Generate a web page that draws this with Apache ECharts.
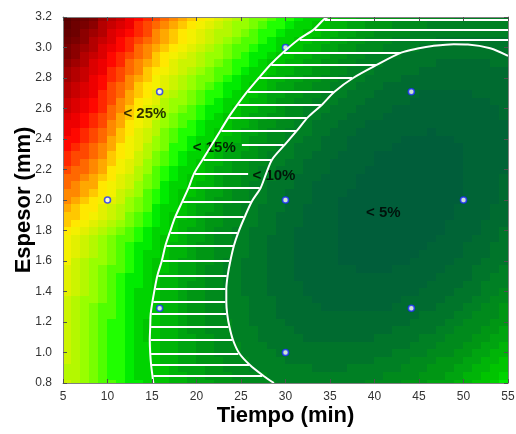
<!DOCTYPE html>
<html>
<head>
<meta charset="utf-8">
<script src="https://cdn.jsdelivr.net/npm/echarts@6/dist/echarts.min.js"></script>
<style>
html, body { margin: 0; padding: 0; background: #fff; }
#container { width: 516px; height: 434px; }
</style>
</head>
<body>
<div id="container"></div>
<script>
// centros de celda de la superficie
var tiempo = [5.5, 6.5, 7.5, 8.5, 9.5, 10.5, 11.5, 12.5, 13.5, 14.5,
    15.5, 16.5, 17.5, 18.5, 19.5, 20.5, 21.5, 22.5, 23.5, 24.5,
    25.5, 26.5, 27.5, 28.5, 29.5, 30.5, 31.5, 32.5, 33.5, 34.5,
    35.5, 36.5, 37.5, 38.5, 39.5, 40.5, 41.5, 42.5, 43.5, 44.5,
    45.5, 46.5, 47.5, 48.5, 49.5, 50.5, 51.5, 52.5, 53.5, 54.5];
var espesor = [0.80, 0.85, 0.90, 0.95, 1.00, 1.05, 1.10, 1.15, 1.20, 1.25, 1.30, 1.35, 1.40, 1.45,
    1.50, 1.55, 1.60, 1.65, 1.70, 1.75, 1.80, 1.85, 1.90, 1.95, 2.00, 2.05, 2.10, 2.15, 2.20,
    2.25, 2.30, 2.35, 2.40, 2.45, 2.50, 2.55, 2.60, 2.65, 2.70, 2.75, 2.80, 2.85, 2.90, 2.95,
    3.00, 3.05, 3.10, 3.15, 3.20];

// error (%) por fila de espesor, de abajo hacia arriba
var errorMalla = [
    [18.1,17.2,16.4,15.6,14.8,14.1,13.4,12.7,12.1,11.5,10.9,10.4,9.9,9.4,8.9,8.5,8.1,7.7,7.4,7.1,6.8,6.6,6.4,6.2,6.0,5.9,5.8,5.8,5.7,5.7,5.8,5.8,5.9,6.0,6.2,6.4,6.6,6.8,7.1,7.4,7.8,8.1,8.5,9.0,9.4,9.9,10.4,11.0,11.6,12.2],
    [18.0,17.2,16.3,15.5,14.8,14.0,13.3,12.6,12.0,11.4,10.8,10.2,9.7,9.2,8.7,8.3,7.9,7.5,7.2,6.8,6.6,6.3,6.1,5.9,5.7,5.6,5.5,5.4,5.4,5.4,5.4,5.4,5.5,5.6,5.8,6.0,6.2,6.4,6.7,7.0,7.3,7.6,8.0,8.4,8.9,9.4,9.9,10.4,11.0,11.6],
    [18.0,17.2,16.3,15.5,14.7,13.9,13.2,12.5,11.9,11.3,10.7,10.1,9.5,9.0,8.5,8.1,7.7,7.3,7.0,6.6,6.3,6.0,5.8,5.6,5.4,5.3,5.2,5.1,5.0,5.0,5.0,5.0,5.1,5.2,5.4,5.6,5.7,5.9,6.2,6.5,6.8,7.1,7.5,7.9,8.4,8.8,9.3,9.8,10.4,11.0],
    [18.1,17.2,16.3,15.5,14.7,13.9,13.2,12.5,11.8,11.2,10.6,10.0,9.4,8.9,8.4,8.0,7.5,7.1,6.8,6.4,6.1,5.8,5.6,5.4,5.2,5.0,4.9,4.8,4.7,4.7,4.7,4.7,4.8,4.9,5.0,5.2,5.3,5.5,5.8,6.1,6.4,6.7,7.1,7.5,7.9,8.3,8.8,9.3,9.9,10.5],
    [18.1,17.2,16.3,15.5,14.7,13.9,13.1,12.4,11.7,11.1,10.5,9.9,9.3,8.8,8.3,7.8,7.3,6.9,6.6,6.2,5.9,5.6,5.4,5.1,4.9,4.7,4.6,4.5,4.4,4.4,4.4,4.4,4.4,4.5,4.6,4.8,4.9,5.1,5.4,5.6,5.9,6.2,6.6,7.0,7.4,7.8,8.3,8.8,9.4,9.9],
    [18.1,17.2,16.4,15.5,14.7,13.9,13.1,12.4,11.7,11.1,10.4,9.8,9.2,8.7,8.2,7.7,7.2,6.8,6.4,6.1,5.7,5.4,5.2,4.9,4.7,4.5,4.4,4.3,4.2,4.1,4.1,4.1,4.1,4.2,4.3,4.4,4.6,4.8,5.0,5.2,5.5,5.8,6.2,6.5,6.9,7.4,7.8,8.3,8.9,9.4],
    [18.2,17.3,16.4,15.5,14.7,13.9,13.1,12.4,11.7,11.0,10.4,9.7,9.1,8.6,8.1,7.6,7.1,6.7,6.3,5.9,5.5,5.2,5.0,4.7,4.5,4.3,4.2,4.0,3.9,3.8,3.8,3.8,3.8,3.9,4.0,4.1,4.2,4.4,4.6,4.8,5.1,5.4,5.8,6.1,6.5,6.9,7.3,7.8,8.4,8.9],
    [18.3,17.4,16.5,15.6,14.8,14.0,13.2,12.4,11.7,11.0,10.4,9.7,9.1,8.6,8.0,7.5,7.0,6.6,6.2,5.8,5.4,5.1,4.8,4.6,4.3,4.1,4.0,3.8,3.7,3.6,3.6,3.6,3.6,3.6,3.7,3.8,3.9,4.1,4.3,4.5,4.8,5.0,5.4,5.7,6.1,6.5,6.9,7.4,7.9,8.4],
    [18.4,17.5,16.6,15.7,14.8,14.0,13.2,12.4,11.7,11.0,10.4,9.7,9.1,8.5,7.9,7.4,6.9,6.5,6.1,5.7,5.3,5.0,4.7,4.4,4.1,3.9,3.8,3.6,3.5,3.4,3.3,3.3,3.3,3.3,3.4,3.5,3.6,3.8,3.9,4.1,4.4,4.6,5.0,5.3,5.7,6.1,6.5,7.0,7.4,7.9],
    [18.6,17.6,16.7,15.8,14.9,14.1,13.3,12.5,11.8,11.1,10.4,9.7,9.1,8.5,7.9,7.4,6.9,6.4,6.0,5.6,5.2,4.9,4.6,4.3,4.0,3.8,3.6,3.4,3.3,3.2,3.1,3.1,3.1,3.1,3.1,3.2,3.3,3.5,3.6,3.8,4.1,4.3,4.6,5.0,5.3,5.7,6.1,6.6,7.0,7.5],
    [18.7,17.7,16.8,15.9,15.0,14.2,13.4,12.6,11.8,11.1,10.4,9.7,9.1,8.5,7.9,7.4,6.9,6.4,5.9,5.5,5.1,4.8,4.5,4.2,3.9,3.6,3.4,3.2,3.1,3.0,2.9,2.9,2.9,2.8,2.9,2.9,3.0,3.2,3.3,3.5,3.8,4.0,4.3,4.6,4.9,5.3,5.7,6.2,6.6,7.1],
    [18.9,17.9,17.0,16.1,15.2,14.3,13.5,12.7,11.9,11.2,10.5,9.8,9.1,8.5,7.9,7.4,6.9,6.4,5.9,5.5,5.1,4.7,4.4,4.1,3.8,3.5,3.3,3.1,3.0,2.8,2.8,2.7,2.7,2.6,2.7,2.7,2.8,2.9,3.1,3.3,3.5,3.7,4.0,4.3,4.6,5.0,5.4,5.8,6.2,6.7],
    [19.1,18.1,17.1,16.2,15.3,14.4,13.6,12.8,12.0,11.3,10.5,9.8,9.2,8.5,7.9,7.4,6.9,6.4,5.9,5.4,5.0,4.6,4.3,4.0,3.7,3.4,3.2,3.0,2.8,2.7,2.6,2.5,2.5,2.4,2.5,2.5,2.6,2.7,2.8,3.0,3.2,3.4,3.7,4.0,4.3,4.6,5.0,5.4,5.8,6.3],
    [19.3,18.3,17.3,16.4,15.5,14.6,13.7,12.9,12.1,11.4,10.6,9.9,9.3,8.6,8.0,7.5,6.9,6.4,5.9,5.4,5.0,4.6,4.3,3.9,3.6,3.4,3.1,2.9,2.7,2.6,2.5,2.4,2.3,2.3,2.3,2.3,2.4,2.5,2.6,2.8,2.9,3.2,3.4,3.7,4.0,4.3,4.7,5.1,5.5,6.0],
    [19.5,18.5,17.5,16.6,15.7,14.8,13.9,13.0,12.2,11.5,10.7,10.0,9.4,8.7,8.1,7.5,6.9,6.4,5.9,5.4,5.0,4.6,4.2,3.9,3.6,3.3,3.0,2.8,2.6,2.5,2.3,2.2,2.2,2.1,2.1,2.1,2.2,2.3,2.4,2.5,2.7,2.9,3.1,3.4,3.7,4.0,4.4,4.8,5.2,5.6],
    [19.8,18.8,17.8,16.8,15.9,15.0,14.1,13.2,12.4,11.6,10.9,10.2,9.5,8.8,8.2,7.6,7.0,6.5,6.0,5.5,5.0,4.6,4.2,3.9,3.6,3.3,3.0,2.8,2.6,2.4,2.2,2.1,2.1,2.0,2.0,2.0,2.0,2.1,2.2,2.3,2.5,2.7,2.9,3.2,3.5,3.8,4.1,4.5,4.9,5.3],
    [20.1,19.0,18.0,17.0,16.1,15.2,14.3,13.4,12.6,11.8,11.0,10.3,9.6,8.9,8.3,7.7,7.1,6.6,6.0,5.5,5.0,4.6,4.2,3.9,3.6,3.2,3.0,2.7,2.5,2.3,2.1,2.0,2.0,1.9,1.9,1.8,1.9,1.9,2.0,2.1,2.3,2.5,2.7,2.9,3.2,3.5,3.8,4.2,4.6,5.0],
    [20.4,19.3,18.3,17.3,16.3,15.4,14.5,13.7,12.8,12.0,11.2,10.5,9.8,9.1,8.4,7.8,7.2,6.7,6.1,5.6,5.1,4.7,4.3,3.9,3.6,3.2,3.0,2.7,2.5,2.3,2.1,2.0,1.9,1.8,1.8,1.7,1.8,1.8,1.9,2.0,2.1,2.3,2.5,2.7,3.0,3.3,3.6,4.0,4.4,4.8],
    [20.7,19.6,18.6,17.6,16.6,15.6,14.7,13.9,13.0,12.2,11.4,10.7,9.9,9.2,8.6,7.9,7.3,6.8,6.2,5.7,5.2,4.8,4.3,3.9,3.6,3.2,3.0,2.7,2.5,2.3,2.1,1.9,1.8,1.7,1.7,1.6,1.7,1.7,1.7,1.8,2.0,2.1,2.3,2.5,2.8,3.1,3.4,3.7,4.1,4.5],
    [21.0,19.9,18.9,17.9,16.9,15.9,15.0,14.1,13.3,12.4,11.6,10.9,10.1,9.4,8.8,8.1,7.5,6.9,6.3,5.8,5.3,4.9,4.4,4.0,3.7,3.3,3.0,2.7,2.5,2.3,2.1,1.9,1.8,1.7,1.6,1.6,1.6,1.6,1.6,1.7,1.9,2.0,2.2,2.4,2.6,2.9,3.2,3.5,3.9,4.3],
    [21.7,20.7,19.7,18.8,17.8,16.7,15.8,14.8,13.8,12.9,11.9,11.1,10.3,9.6,8.9,8.3,7.6,7.0,6.5,5.9,5.4,5.0,4.5,4.1,3.7,3.4,3.0,2.7,2.5,2.3,2.1,1.9,1.8,1.6,1.5,1.5,1.5,1.5,1.5,1.6,1.7,1.9,2.0,2.2,2.4,2.7,3.0,3.3,3.7,4.1],
    [22.3,21.4,20.6,19.6,18.6,17.6,16.4,15.4,14.3,13.4,12.3,11.4,10.6,9.8,9.1,8.5,7.8,7.2,6.7,6.1,5.6,5.1,4.6,4.2,3.8,3.5,3.1,2.8,2.5,2.3,2.1,1.9,1.8,1.6,1.5,1.5,1.5,1.5,1.5,1.5,1.6,1.8,1.9,2.1,2.3,2.6,2.8,3.1,3.5,3.9],
    [23.0,22.1,21.3,20.4,19.3,18.3,17.1,16.0,14.8,13.8,12.7,11.7,10.8,10.1,9.3,8.7,8.0,7.4,6.8,6.3,5.7,5.2,4.7,4.3,3.9,3.6,3.2,2.9,2.6,2.3,2.1,1.9,1.8,1.6,1.5,1.5,1.4,1.4,1.4,1.4,1.5,1.7,1.8,2.0,2.2,2.4,2.7,3.0,3.3,3.7],
    [23.6,22.8,21.9,21.1,20.0,18.8,17.7,16.4,15.3,14.2,13.0,12.0,11.1,10.4,9.6,8.9,8.3,7.6,7.0,6.5,5.9,5.4,4.9,4.5,4.1,3.7,3.3,3.0,2.7,2.4,2.2,2.0,1.8,1.7,1.6,1.5,1.4,1.4,1.4,1.4,1.5,1.6,1.7,1.9,2.1,2.3,2.6,2.9,3.2,3.5],
    [24.2,23.4,22.6,21.8,20.7,19.5,18.2,17.0,15.7,14.6,13.4,12.4,11.4,10.6,9.9,9.2,8.5,7.8,7.2,6.7,6.1,5.6,5.1,4.6,4.2,3.8,3.4,3.1,2.8,2.5,2.3,2.0,1.9,1.7,1.6,1.5,1.4,1.4,1.4,1.4,1.5,1.5,1.6,1.8,2.0,2.2,2.5,2.7,3.0,3.4],
    [24.8,24.1,23.3,22.4,21.3,20.1,18.8,17.6,16.2,15.0,13.8,12.7,11.7,10.9,10.2,9.5,8.8,8.1,7.5,6.9,6.3,5.8,5.3,4.8,4.4,4.0,3.6,3.2,2.9,2.6,2.4,2.1,2.0,1.8,1.6,1.5,1.5,1.4,1.4,1.4,1.5,1.5,1.6,1.8,2.0,2.2,2.4,2.6,2.9,3.3],
    [25.4,24.6,23.9,23.1,22.0,20.7,19.4,18.1,16.7,15.4,14.2,13.0,12.0,11.2,10.5,9.8,9.1,8.4,7.7,7.1,6.5,6.0,5.5,5.0,4.6,4.2,3.8,3.4,3.0,2.7,2.5,2.2,2.1,1.9,1.7,1.6,1.5,1.4,1.4,1.4,1.5,1.5,1.6,1.7,1.9,2.1,2.3,2.5,2.8,3.2],
    [26.0,25.2,24.5,23.7,22.6,21.3,19.9,18.6,17.2,15.9,14.6,13.4,12.4,11.6,10.8,10.1,9.4,8.7,8.0,7.4,6.8,6.3,5.8,5.3,4.8,4.4,4.0,3.6,3.2,2.9,2.6,2.4,2.2,2.0,1.8,1.7,1.6,1.5,1.5,1.5,1.5,1.5,1.6,1.7,1.9,2.1,2.3,2.5,2.8,3.1],
    [26.6,25.8,25.2,24.4,23.3,21.9,20.4,19.1,17.7,16.3,15.0,13.8,12.8,11.9,11.1,10.4,9.7,9.0,8.3,7.7,7.1,6.5,6.0,5.5,5.0,4.6,4.2,3.8,3.4,3.1,2.8,2.5,2.3,2.1,1.9,1.8,1.7,1.6,1.5,1.5,1.5,1.5,1.6,1.7,1.9,2.1,2.2,2.5,2.7,3.0],
    [27.2,26.5,25.8,25.0,23.9,22.5,21.0,19.6,18.2,16.8,15.5,14.2,13.2,12.3,11.5,10.8,10.0,9.3,8.7,8.0,7.4,6.8,6.3,5.8,5.3,4.8,4.4,4.0,3.6,3.3,3.0,2.7,2.5,2.2,2.1,1.9,1.8,1.7,1.6,1.6,1.6,1.6,1.7,1.8,1.9,2.1,2.2,2.5,2.7,3.0],
    [27.8,27.0,26.3,25.5,24.4,23.0,21.5,20.1,18.6,17.2,15.9,14.6,13.6,12.7,11.9,11.1,10.4,9.7,9.0,8.3,7.7,7.1,6.6,6.0,5.5,5.1,4.6,4.2,3.8,3.5,3.2,2.9,2.6,2.4,2.2,2.0,1.9,1.8,1.7,1.7,1.7,1.7,1.7,1.8,1.9,2.1,2.2,2.5,2.7,3.0],
    [28.4,27.6,26.9,26.0,24.9,23.5,22.0,20.6,19.1,17.7,16.4,15.1,14.0,13.2,12.3,11.5,10.8,10.1,9.4,8.7,8.1,7.5,6.9,6.3,5.8,5.4,4.9,4.5,4.1,3.7,3.4,3.1,2.8,2.6,2.4,2.2,2.1,2.0,1.9,1.8,1.8,1.8,1.8,1.9,2.0,2.1,2.3,2.5,2.7,3.0],
    [29.0,28.1,27.3,26.4,25.3,23.9,22.5,21.0,19.6,18.2,16.9,15.5,14.4,13.6,12.7,11.9,11.2,10.5,9.7,9.1,8.4,7.8,7.2,6.6,6.1,5.7,5.2,4.8,4.3,4.0,3.6,3.3,3.0,2.8,2.6,2.4,2.2,2.1,2.0,1.9,1.9,1.9,1.9,2.0,2.1,2.2,2.3,2.5,2.7,3.0],
    [29.5,28.6,27.8,26.9,25.8,24.4,23.0,21.5,20.0,18.6,17.3,16.0,14.9,14.0,13.2,12.4,11.6,10.9,10.1,9.5,8.8,8.2,7.6,7.0,6.5,6.0,5.5,5.1,4.6,4.3,3.9,3.6,3.3,3.0,2.8,2.6,2.4,2.3,2.2,2.1,2.1,2.0,2.1,2.1,2.2,2.3,2.4,2.6,2.8,3.0],
    [30.0,29.1,28.3,27.3,26.2,24.8,23.4,21.9,20.5,19.1,17.8,16.5,15.4,14.5,13.7,12.8,12.0,11.3,10.5,9.9,9.2,8.6,7.9,7.4,6.8,6.3,5.8,5.4,4.9,4.6,4.2,3.8,3.5,3.2,3.0,2.8,2.6,2.5,2.4,2.3,2.2,2.2,2.2,2.2,2.3,2.4,2.5,2.7,2.8,3.0],
    [30.5,29.7,28.7,27.8,26.7,25.2,23.8,22.4,21.0,19.6,18.3,17.0,15.9,15.0,14.2,13.3,12.5,11.7,11.0,10.3,9.6,9.0,8.3,7.8,7.2,6.7,6.2,5.7,5.3,4.9,4.5,4.1,3.8,3.5,3.3,3.1,2.9,2.7,2.6,2.5,2.4,2.4,2.4,2.4,2.4,2.5,2.6,2.8,2.9,3.1],
    [31.1,30.1,29.2,28.2,27.1,25.6,24.3,22.8,21.5,20.0,18.7,17.5,16.4,15.5,14.7,13.8,13.0,12.2,11.5,10.7,10.0,9.4,8.7,8.2,7.6,7.0,6.5,6.0,5.6,5.2,4.8,4.4,4.1,3.8,3.6,3.3,3.1,2.9,2.8,2.7,2.6,2.6,2.5,2.5,2.6,2.6,2.7,2.9,3.0,3.2],
    [31.6,30.6,29.7,28.6,27.4,26.1,24.7,23.3,22.0,20.6,19.3,18.0,17.0,16.1,15.2,14.3,13.5,12.7,12.0,11.2,10.5,9.8,9.2,8.6,8.0,7.4,6.9,6.4,6.0,5.5,5.1,4.8,4.4,4.1,3.9,3.6,3.4,3.2,3.1,2.9,2.8,2.8,2.7,2.7,2.8,2.8,2.9,3.0,3.2,3.4],
    [32.2,31.2,30.1,29.1,27.9,26.5,25.1,23.7,22.5,21.1,19.8,18.6,17.6,16.6,15.7,14.8,14.0,13.2,12.5,11.7,11.0,10.3,9.6,9.0,8.4,7.8,7.3,6.8,6.4,5.9,5.5,5.1,4.7,4.4,4.2,3.9,3.7,3.5,3.3,3.2,3.0,3.0,2.9,2.9,3.0,3.0,3.1,3.2,3.3,3.5],
    [32.7,31.7,30.6,29.6,28.4,27.0,25.6,24.3,23.0,21.7,20.4,19.2,18.2,17.2,16.3,15.4,14.6,13.8,13.0,12.2,11.5,10.8,10.1,9.5,8.9,8.3,7.8,7.2,6.8,6.3,5.9,5.5,5.1,4.8,4.5,4.2,4.0,3.8,3.6,3.5,3.3,3.3,3.2,3.2,3.2,3.2,3.3,3.4,3.5,3.7],
    [33.3,32.2,31.1,30.0,28.8,27.5,26.1,24.8,23.5,22.2,21.0,19.8,18.8,17.8,16.9,16.0,15.1,14.3,13.5,12.7,12.0,11.3,10.6,10.0,9.3,8.7,8.2,7.6,7.2,6.7,6.3,5.9,5.5,5.1,4.8,4.5,4.3,4.1,3.9,3.8,3.6,3.5,3.4,3.4,3.4,3.4,3.5,3.6,3.7,3.8],
    [34.0,32.8,31.7,30.5,29.3,28.0,26.6,25.4,24.1,22.9,21.6,20.5,19.4,18.4,17.5,16.6,15.7,14.9,14.1,13.3,12.5,11.8,11.1,10.5,9.8,9.2,8.7,8.1,7.6,7.1,6.7,6.3,5.9,5.5,5.2,4.9,4.7,4.4,4.2,4.1,3.9,3.8,3.7,3.7,3.7,3.7,3.7,3.8,3.9,4.0],
    [34.6,33.4,32.3,31.0,29.7,28.5,27.2,25.9,24.7,23.5,22.3,21.1,20.0,19.0,18.1,17.2,16.3,15.5,14.6,13.8,13.1,12.3,11.6,11.0,10.3,9.7,9.2,8.6,8.1,7.6,7.1,6.7,6.3,5.9,5.6,5.3,5.0,4.8,4.5,4.4,4.2,4.1,4.0,4.0,3.9,3.9,3.9,4.0,4.1,4.2],
    [35.3,34.1,32.8,31.6,30.3,29.0,27.8,26.5,25.3,24.1,22.9,21.7,20.7,19.7,18.8,17.8,16.9,16.1,15.2,14.4,13.7,12.9,12.2,11.5,10.9,10.2,9.7,9.1,8.6,8.1,7.6,7.2,6.8,6.4,6.0,5.7,5.4,5.2,4.9,4.8,4.6,4.5,4.3,4.3,4.2,4.2,4.2,4.3,4.4,4.5],
    [35.9,34.7,33.5,32.2,30.9,29.6,28.3,27.1,25.9,24.7,23.6,22.4,21.4,20.4,19.4,18.5,17.5,16.7,15.8,15.0,14.3,13.5,12.8,12.1,11.4,10.7,10.2,9.6,9.1,8.6,8.1,7.6,7.2,6.8,6.4,6.1,5.8,5.6,5.3,5.1,4.9,4.8,4.6,4.6,4.5,4.5,4.5,4.6,4.6,4.7],
    [36.7,35.4,34.1,32.8,31.5,30.2,29.0,27.7,26.6,25.4,24.2,23.1,22.1,21.1,20.1,19.2,18.2,17.4,16.5,15.7,14.9,14.1,13.4,12.7,12.0,11.3,10.7,10.1,9.6,9.1,8.6,8.1,7.7,7.3,6.9,6.6,6.3,6.0,5.7,5.5,5.3,5.2,5.0,5.0,4.9,4.9,4.8,4.9,4.9,5.0],
    [37.5,36.1,34.7,33.4,32.1,30.8,29.6,28.4,27.2,26.1,24.9,23.8,22.8,21.8,20.8,19.9,18.9,18.0,17.1,16.3,15.5,14.7,14.0,13.3,12.6,11.9,11.3,10.7,10.1,9.6,9.1,8.6,8.2,7.8,7.4,7.0,6.7,6.4,6.1,5.9,5.7,5.6,5.4,5.3,5.2,5.2,5.1,5.2,5.2,5.3],
    [38.4,37.0,35.6,34.3,33.0,31.7,30.4,29.2,28.0,26.9,25.7,24.6,23.6,22.5,21.5,20.6,19.6,18.7,17.8,17.0,16.2,15.4,14.6,13.9,13.2,12.5,11.9,11.3,10.7,10.1,9.6,9.1,8.7,8.3,7.9,7.5,7.2,6.9,6.6,6.4,6.2,6.0,5.8,5.7,5.6,5.6,5.5,5.5,5.6,5.6],
    [39.3,37.9,36.5,35.1,33.8,32.5,31.3,30.0,28.8,27.7,26.5,25.4,24.3,23.3,22.3,21.3,20.3,19.4,18.5,17.7,16.8,16.0,15.3,14.5,13.8,13.1,12.5,11.9,11.3,10.7,10.2,9.7,9.2,8.8,8.4,8.0,7.7,7.4,7.1,6.8,6.6,6.4,6.2,6.1,6.0,5.9,5.9,5.9,5.9,6.0]
];

// un color por cada banda de 1 %
var colores = ['#005a3c','#005e3a','#006436','#006b30','#00752a','#008024','#008a1c','#009614','#00a410','#00b408',
    '#00c400','#00d400','#00ec00','#20ff00','#50ff00','#78ff00','#98ff00','#b4f800','#ccf400','#e2f000',
    '#f4f000','#ffe800','#ffc800','#ffa800','#ff8800','#ff6800','#ff4800','#ff2800','#ff0800','#ee0000',
    '#dc0000','#c80000','#b40000','#a00000','#8c0000','#7a0000','#6e0000','#660000','#5e0000','#580000'];

// puntos del diseño experimental
var puntosTiempo = [10, 15.86, 15.86, 30, 30, 30, 44.14, 44.14, 50];
var puntosEspesor = [2.0, 2.71, 1.29, 3.0, 2.0, 1.0, 2.71, 1.29, 2.0];

// curvas blancas
var contorno10 = [[34.8,3.2],[34.3,3.184],[33.2,3.119],[31.5,3.054],[29.7,2.966],[28.3,2.887],[27.0,2.80],[25.7,2.71],
    [24.6,2.625],[23.6,2.542],[22.7,2.456],[21.7,2.361],[20.7,2.266],[19.7,2.17],[19.1,2.079],[18.4,1.989],[17.6,1.887],
    [17.0,1.788],[16.5,1.70],[16.1,1.60],[15.6,1.504],[15.3,1.416],[15.05,1.333],[14.85,1.252],[14.8,1.169],[14.75,1.082],
    [14.8,0.995],[14.9,0.918],[15.05,0.848],[15.15,0.8]];
var contorno5 = [[55,2.945],[53,2.995],[50.5,3.02],[48.9,3.022],[46.5,3.01],[45.0,2.995],[43.0,2.966],[40.3,2.887],
    [37.6,2.80],[35.5,2.71],[34.1,2.625],[32.5,2.542],[31.3,2.456],[29.9,2.361],[28.5,2.266],[27.8,2.17],[27.2,2.079],
    [26.2,1.989],[25.4,1.887],[24.7,1.788],[24.2,1.70],[23.8,1.60],[23.5,1.504],[23.35,1.416],[23.35,1.333],[23.45,1.252],
    [23.7,1.169],[24.1,1.082],[24.8,0.995],[26.0,0.918],[27.5,0.848],[28.7,0.8]];

// rayado horizontal entre las dos curvas
var rayasEspesor = [3.184, 3.119, 3.054, 2.966, 2.887, 2.80, 2.71, 2.625, 2.542, 2.456, 2.361, 2.266, 2.17, 2.079,
    1.989, 1.887, 1.788, 1.70, 1.60, 1.504, 1.416, 1.333, 1.252, 1.169, 1.082, 0.995, 0.918, 0.848];
var rayasDesde = [34.4, 33.3, 31.6, 29.8, 28.4, 27.1, 25.8, 24.7, 23.7, 22.8, 25.1, 20.8, 19.8, 19.2,
    18.5, 17.7, 17.1, 16.6, 16.2, 15.7, 15.4, 15.15, 14.95, 14.9, 14.85, 14.9, 15.0, 15.15];
var rayasHasta = [55, 55, 55, 42.9, 40.2, 37.5, 35.4, 34.0, 32.4, 31.2, 29.8, 28.4, 25.8, 27.1,
    26.1, 25.3, 24.6, 24.1, 23.7, 23.4, 23.25, 23.25, 23.35, 23.6, 24.0, 24.7, 25.9, 27.4];

var etiquetas = ['< 25%', '< 15%', '< 10%', '< 5%'];
var etiquetasTiempo = [14.2, 22.0, 28.7, 41.0];
var etiquetasEspesor = [2.564, 2.344, 2.16, 1.913];

var celdas = [];
for (var j = 0; j < espesor.length; j++) {
    for (var i = 0; i < tiempo.length; i++) {
        celdas.push([tiempo[i], espesor[j], errorMalla[j][i]]);
    }
}
var puntos = [];
for (var k = 0; k < puntosTiempo.length; k++) {
    puntos.push([puntosTiempo[k], puntosEspesor[k]]);
}
var rayas = [];
for (var k = 0; k < rayasEspesor.length; k++) {
    rayas.push({coords: [[rayasDesde[k], rayasEspesor[k]], [rayasHasta[k], rayasEspesor[k]]]});
}
var textos = [];
for (var k = 0; k < etiquetas.length; k++) {
    textos.push([etiquetasTiempo[k], etiquetasEspesor[k], etiquetas[k]]);
}

// cada celda: 1 min de ancho, 0.05 mm de alto, recortada al area del grafico
function dibujarCelda(params, api) {
    var x = api.value(0);
    var y = api.value(1);
    var abajo = Math.max(y - 0.025, 0.8);
    var arriba = Math.min(y + 0.025, 3.2);
    var p0 = api.coord([x - 0.5, arriba]);
    var p1 = api.coord([x + 0.5, abajo]);
    var x0 = Math.floor(p0[0]), y0 = Math.floor(p0[1]);
    var x1 = Math.ceil(p1[0]), y1 = Math.ceil(p1[1]);
    return {
        type: 'rect',
        shape: {x: x0, y: y0, width: x1 - x0, height: y1 - y0},
        style: {fill: api.visual('color')}
    };
}

var fuente = '"Liberation Sans", Arial, sans-serif';
var linea = {show: true, onZero: false, lineStyle: {color: '#808080', width: 1}};
var marcas = {show: true, inside: true, length: 4, lineStyle: {color: '#505050'}};

var dom = document.getElementById('container');
var myChart = echarts.init(dom, null, {renderer: 'canvas'});
var option = {
    animation: false,
    backgroundColor: '#fff',
    textStyle: {fontFamily: fuente},
    grid: {left: 63, right: 8, top: 17, bottom: 51, outerBoundsMode: 'none'},
    visualMap: {
        type: 'piecewise',
        show: false,
        seriesIndex: 0,
        dimension: 2,
        min: 0,
        max: 40,
        splitNumber: 40,
        inRange: {color: colores}
    },
    xAxis: [
        {
            type: 'value', position: 'bottom', min: 5, max: 55, interval: 5, z: 10,
            axisLine: linea, axisTick: marcas, splitLine: {show: false},
            axisLabel: {color: '#333', fontSize: 12, margin: 8, fontFamily: fuente},
            name: 'Tiempo (min)', nameLocation: 'middle', nameGap: 22, nameMoveOverlap: false,
            nameTextStyle: {color: '#000', fontSize: 22, fontWeight: 'bold', fontFamily: fuente}
        },
        {
            type: 'value', position: 'top', min: 5, max: 55, interval: 5, z: 10,
            axisLine: linea, axisTick: marcas, splitLine: {show: false},
            axisLabel: {show: false}
        }
    ],
    yAxis: [
        {
            type: 'value', position: 'left', min: 0.8, max: 3.2, interval: 0.2, z: 10,
            axisLine: linea, axisTick: marcas, splitLine: {show: false},
            axisLabel: {color: '#333', fontSize: 12, margin: 11, fontFamily: fuente,
                formatter: function (v) { return v.toFixed(1); }},
            name: 'Espesor (mm)', nameLocation: 'middle', nameGap: 28, nameMoveOverlap: false,
            nameTextStyle: {color: '#000', fontSize: 22, fontWeight: 'bold', fontFamily: fuente}
        },
        {
            type: 'value', position: 'right', min: 0.8, max: 3.2, interval: 0.2, z: 10,
            axisLine: linea, axisTick: marcas, splitLine: {show: false},
            axisLabel: {show: false}
        }
    ],
    series: [
        {
            type: 'custom',
            xAxisIndex: 0,
            yAxisIndex: 0,
            data: celdas,
            encode: {x: 0, y: 1},
            renderItem: dibujarCelda,
            progressive: 0,
            silent: true
        },
        {
            type: 'lines',
            coordinateSystem: 'cartesian2d',
            xAxisIndex: 0,
            yAxisIndex: 0,
            data: rayas,
            silent: true,
            lineStyle: {color: '#fff', width: 2, opacity: 1, curveness: 0}
        },
        {
            type: 'line',
            xAxisIndex: 0,
            yAxisIndex: 0,
            data: contorno10,
            showSymbol: false,
            smooth: 0.3,
            silent: true,
            lineStyle: {color: '#fff', width: 2}
        },
        {
            type: 'line',
            xAxisIndex: 0,
            yAxisIndex: 0,
            data: contorno5,
            showSymbol: false,
            smooth: 0.3,
            silent: true,
            lineStyle: {color: '#fff', width: 2}
        },
        {
            type: 'scatter',
            xAxisIndex: 0,
            yAxisIndex: 0,
            data: puntos,
            symbol: 'circle',
            symbolSize: 6,
            silent: true,
            itemStyle: {color: '#ffffff', borderColor: '#1f2dff', borderWidth: 1.6}
        },
        {
            type: 'scatter',
            xAxisIndex: 0,
            yAxisIndex: 0,
            data: textos,
            symbolSize: 1,
            silent: true,
            itemStyle: {color: 'rgba(0,0,0,0)'},
            label: {
                show: true,
                position: 'inside',
                formatter: function (p) { return p.data[2]; },
                color: '#000',
                fontSize: 15,
                fontWeight: 'bold',
                fontFamily: fuente
            },
            labelLayout: {hideOverlap: false}
        }
    ]
};
if (option && typeof option === 'object') {
    myChart.setOption(option, true);
}
</script>
</body>
</html>
